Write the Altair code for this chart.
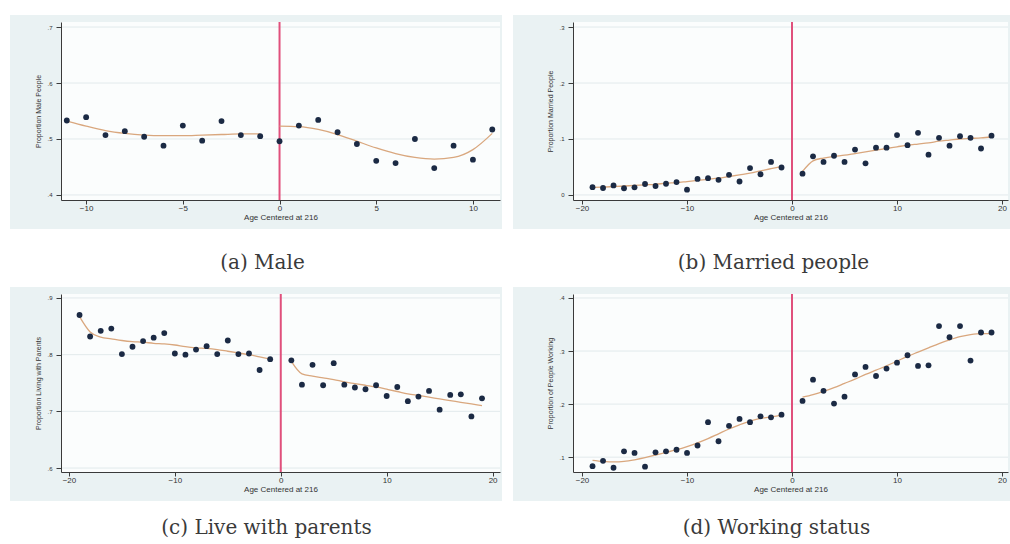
import altair as alt
import pandas as pd

# Colours
FRAME_BG = "#EAF2F3"
PLOT_BG = "#FBFDFD"
GRID = "#E2EAEC"
DOT = "#1B2A44"
FIT = "#D9A77E"
CUTOFF = "#E0507C"
AXIS = "#3A3A3A"

# (a) Male
male_age = list(range(-11, 12))
male_share = [0.533, 0.539, 0.507, 0.514, 0.504, 0.488, 0.524, 0.497, 0.532, 0.507, 0.505,
              0.496,
              0.524, 0.534, 0.512, 0.491, 0.461, 0.457, 0.500, 0.448, 0.488, 0.463, 0.517]
male_fit_pre_age = list(range(-11, 0))
male_fit_pre = [0.532, 0.523, 0.515, 0.510, 0.507, 0.506, 0.506, 0.507, 0.508, 0.509, 0.509]
male_fit_post_age = list(range(0, 12))
male_fit_post = [0.523, 0.522, 0.517, 0.508, 0.496, 0.484, 0.474, 0.467, 0.464, 0.467, 0.481, 0.510]

# (b) Married people
married_age = list(range(-19, 0)) + list(range(1, 20))
married_share = [0.014, 0.0125, 0.017, 0.012, 0.0137, 0.0196, 0.016, 0.020, 0.023, 0.0095,
                 0.0286, 0.030, 0.027, 0.036, 0.024, 0.048, 0.037, 0.059, 0.049,
                 0.038, 0.069, 0.059, 0.070, 0.059, 0.081, 0.0565, 0.0845, 0.0845, 0.107,
                 0.089, 0.111, 0.072, 0.102, 0.088, 0.105, 0.102, 0.083, 0.106]
married_fit_pre_age = list(range(-19, 0))
married_fit_pre = [0.0137, 0.014, 0.015, 0.016, 0.017, 0.018, 0.019, 0.021, 0.022, 0.024,
                   0.026, 0.028, 0.030, 0.033, 0.036, 0.039, 0.043, 0.047, 0.051]
married_fit_post_age = list(range(1, 20))
married_fit_post = [0.042, 0.061, 0.066, 0.069, 0.071, 0.074, 0.077, 0.080, 0.083, 0.086,
                    0.089, 0.091, 0.093, 0.096, 0.098, 0.100, 0.101, 0.102, 0.104]

# (c) Live with parents
parents_age = list(range(-19, 0)) + list(range(1, 20))
parents_share = [0.870, 0.832, 0.842, 0.846, 0.801, 0.814, 0.824, 0.830, 0.838, 0.802,
                 0.800, 0.809, 0.815, 0.801, 0.825, 0.801, 0.802, 0.773, 0.792,
                 0.790, 0.747, 0.782, 0.746, 0.785, 0.747, 0.742, 0.739, 0.746, 0.727,
                 0.743, 0.718, 0.726, 0.736, 0.703, 0.729, 0.730, 0.691, 0.723]
parents_fit_pre_age = list(range(-19, 0))
parents_fit_pre = [0.867, 0.840, 0.831, 0.828, 0.825, 0.823, 0.822, 0.820, 0.819, 0.817,
                   0.814, 0.812, 0.811, 0.809, 0.806, 0.803, 0.800, 0.796, 0.792]
parents_fit_post_age = list(range(1, 20))
parents_fit_post = [0.788, 0.766, 0.762, 0.759, 0.756, 0.752, 0.749, 0.746, 0.743, 0.739,
                    0.735, 0.731, 0.728, 0.725, 0.722, 0.719, 0.716, 0.713, 0.710]

# (d) Working status
working_age = list(range(-19, 0)) + list(range(1, 20))
working_share = [0.083, 0.093, 0.080, 0.111, 0.108, 0.082, 0.109, 0.111, 0.114, 0.108,
                 0.122, 0.166, 0.130, 0.159, 0.172, 0.166, 0.177, 0.175, 0.180,
                 0.206, 0.246, 0.225, 0.201, 0.214, 0.256, 0.270, 0.253, 0.267, 0.278,
                 0.292, 0.272, 0.273, 0.347, 0.326, 0.347, 0.282, 0.335, 0.335]
working_fit_pre_age = list(range(-19, 0))
working_fit_pre = [0.094, 0.092, 0.091, 0.092, 0.095, 0.099, 0.104, 0.109, 0.114, 0.120,
                   0.127, 0.135, 0.144, 0.153, 0.161, 0.168, 0.173, 0.176, 0.179]
working_fit_post_age = list(range(1, 20))
working_fit_post = [0.213, 0.218, 0.224, 0.231, 0.239, 0.247, 0.256, 0.264, 0.272, 0.281,
                    0.290, 0.298, 0.306, 0.314, 0.321, 0.327, 0.331, 0.333, 0.333]

X_TITLE = "Age Centered at 216"
PLOT_H = 178
SANS = "Liberation Sans"
SERIF = "DejaVu Serif"

LABEL_EXPR = "datum.value == 0 ? '0' : replace(format(datum.value, '.1f'), '0.', '.')"


def panel(ages, shares, pre_age, pre_fit, post_age, post_fit, xdom, ydom, xticks, yticks,
          ytitle, caption, width, left_ext, dx, cap_offset):
    xscale = alt.Scale(domain=xdom, nice=False, zero=False)
    yscale = alt.Scale(domain=ydom, nice=False, zero=False)
    xaxis = alt.Axis(values=xticks, title=X_TITLE, grid=False, zindex=1,
                     labelFontSize=8, titleFontSize=8, labelFont=SANS, titleFont=SANS,
                     titleFontWeight="normal", labelColor="#333", titleColor="#333",
                     domainColor=AXIS, tickColor=AXIS, tickSize=4, labelPadding=0,
                     titlePadding=1, labelFlush=False)
    yaxis = alt.Axis(values=yticks, title=ytitle, grid=False, zindex=1,
                     labelExpr=LABEL_EXPR, labelFontSize=6, titleFontSize=7,
                     labelFont=SANS, titleFont=SANS, titleFontWeight="normal",
                     labelColor="#333", titleColor="#333", domainColor=AXIS,
                     tickColor=AXIS, tickSize=5, labelPadding=4, titlePadding=5)

    def X():
        return alt.X("age:Q", scale=xscale, axis=xaxis)

    def Y():
        return alt.Y("share:Q", scale=yscale, axis=yaxis)

    one = pd.DataFrame({"k": [0]})
    frame = alt.Chart(one).mark_rect(color=FRAME_BG, clip=False).encode(
        x=alt.value(-left_ext), x2=alt.value(width + 2),
        y=alt.value(-7), y2=alt.value(PLOT_H + 29))
    plot_bg = alt.Chart(one).mark_rect(color=PLOT_BG).encode(
        x=alt.value(0), x2=alt.value(width), y=alt.value(0), y2=alt.value(PLOT_H))

    grid = alt.Chart(pd.DataFrame({"share": yticks})).mark_rule(
        color=GRID, strokeWidth=1).encode(y=Y())

    cut = alt.Chart(pd.DataFrame({"age": [0]})).mark_rule(
        color=CUTOFF, strokeWidth=2).encode(x=X())

    fit_df = pd.DataFrame({
        "age": pre_age + post_age,
        "share": pre_fit + post_fit,
        "side": ["pre"] * len(pre_age) + ["post"] * len(post_age),
    })
    fit = alt.Chart(fit_df).mark_line(
        color=FIT, strokeWidth=1.3, interpolate="monotone").encode(
        x=X(), y=Y(), detail="side:N")

    pts = alt.Chart(pd.DataFrame({"age": ages, "share": shares})).mark_point(
        filled=True, shape="circle", size=34, color=DOT, opacity=1).encode(x=X(), y=Y())

    return alt.layer(frame, plot_bg, grid, cut, fit, pts).properties(
        width=width, height=PLOT_H,
        title=alt.TitleParams(caption, orient="bottom", anchor="middle", frame="group",
                              dx=dx, offset=cap_offset, font=SERIF, fontSize=20,
                              fontWeight="normal", color="#3a3a3a"))


a = panel(male_age, male_share, male_fit_pre_age, male_fit_pre, male_fit_post_age,
          male_fit_post, [-11.3, 11.4], [0.391, 0.709], [-10, -5, 0, 5, 10],
          [0.4, 0.5, 0.6, 0.7], "Proportion Male People", "(a) Male", 439, 51, -18, 24)
b = panel(married_age, married_share, married_fit_pre_age, married_fit_pre,
          married_fit_post_age, married_fit_post, [-20.86, 20.57], [-0.009, 0.309],
          [-20, -10, 0, 10, 20], [0, 0.1, 0.2, 0.3], "Proportion Married People",
          "(b) Married people", 435, 60, -17, 24)
c = panel(parents_age, parents_share, parents_fit_pre_age, parents_fit_pre,
          parents_fit_post_age, parents_fit_post, [-20.75, 20.7], [0.593, 0.907],
          [-20, -10, 0, 10, 20], [0.6, 0.7, 0.8, 0.9], "Proportion Living with Parents",
          "(c) Live with parents", 439, 51, -14, 17)
d = panel(working_age, working_share, working_fit_pre_age, working_fit_pre,
          working_fit_post_age, working_fit_post, [-20.86, 20.57], [0.072, 0.4075],
          [-20, -10, 0, 10, 20], [0.1, 0.2, 0.3, 0.4], "Proportion of People Working",
          "(d) Working status", 435, 60, -14, 17)

chart = alt.vconcat(
    alt.hconcat(a, b, spacing=11),
    alt.hconcat(c, d, spacing=11),
    spacing=14,
).properties(
    padding={"left": 10, "top": 15, "right": 0, "bottom": 0},
    background="white",
).configure_view(stroke=None)

chart.save("out.html", embed_options={"renderer": "svg", "actions": False})
